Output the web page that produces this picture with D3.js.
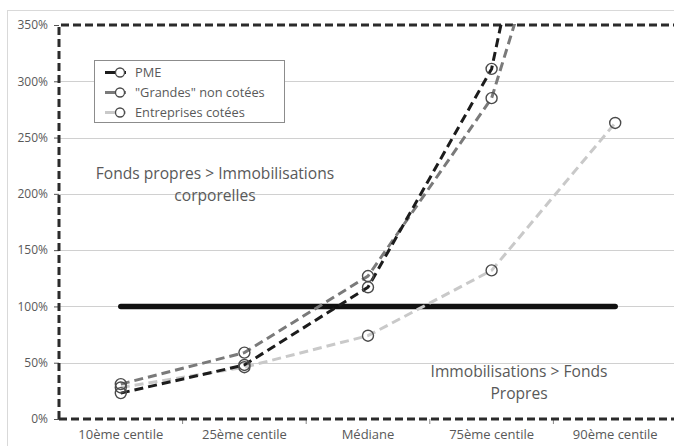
<!DOCTYPE html>
<html>
<head>
<meta charset="utf-8">
<script src="https://cdn.jsdelivr.net/npm/d3@7"></script>
<style>
  html, body { margin: 0; padding: 0; background: #fff; }
  svg { display: block; }
  text { font-family: "Open Sans", "Noto Sans", sans-serif; }
</style>
</head>
<body>
<svg id="chart" width="674" height="446"></svg>
<script>
// Ratio fonds propres / immobilisations corporelles par centile
const categories = ["10ème centile", "25ème centile", "Médiane", "75ème centile", "90ème centile"];
const seriesNames = ["PME", "\"Grandes\"  non cotées", "Entreprises cotées"];
const pmeValues = [23, 48, 117, 311, 830];
const grandesValues = [31, 59, 127, 285, 640];
const coteesValues = [28, 46, 74, 132, 263];
const thresholdValue = 100;
const yTicks = [0, 50, 100, 150, 200, 250, 300, 350];

const seriesValues = [pmeValues, grandesValues, coteesValues];
const seriesColors = ["#1c1c1c", "#7a7a7a", "#c9c9c9"];

const svg = d3.select("#chart");
const margin = { left: 59, top: 25, right: -3, bottom: 27 };
const W = 674, H = 446;

const x = d3.scaleBand()
  .domain(categories)
  .range([margin.left, W - margin.right])
  .paddingInner(0).paddingOuter(0);
const y = d3.scaleLinear().domain([0, 350]).range([H - margin.bottom, margin.top]);
const cx = d => x(d) + x.bandwidth() / 2;

// chart frame
svg.append("rect")
  .attr("x", 7.5).attr("y", 10.5).attr("width", 680).attr("height", 440)
  .attr("fill", "none").attr("stroke", "#d9d9d9").attr("stroke-width", 1);

// horizontal gridlines
svg.append("g")
  .selectAll("line")
  .data(yTicks.filter(t => t > 0 && t < 350))
  .join("line")
  .attr("x1", margin.left).attr("x2", W)
  .attr("y1", d => Math.round(y(d)) + 0.5).attr("y2", d => Math.round(y(d)) + 0.5)
  .attr("stroke", "#d0d0d0").attr("stroke-width", 1);

// y axis
const yAxis = svg.append("g")
  .attr("transform", `translate(${margin.left},0)`)
  .call(d3.axisLeft(y).tickValues(yTicks).tickFormat(d => d + "%").tickSize(5).tickPadding(6));
yAxis.select(".domain").remove();
yAxis.selectAll(".tick line").attr("stroke", "#555").attr("stroke-width", 1);
yAxis.selectAll(".tick text").attr("fill", "#595959").attr("font-size", 12);

// x axis
const boundaries = categories.slice(1).map(c => x(c));
const xAxis = svg.append("g")
  .attr("transform", `translate(0,${y(0)})`)
  .call(d3.axisBottom(x).tickSize(0).tickPadding(11));
xAxis.select(".domain").remove();
xAxis.selectAll(".tick text").attr("fill", "#595959").attr("font-size", 13);
svg.append("g").selectAll("line")
  .data(boundaries)
  .join("line")
  .attr("x1", d => d).attr("x2", d => d)
  .attr("y1", y(0)).attr("y2", y(0) + 5)
  .attr("stroke", "#888").attr("stroke-width", 1);

// dashed plot-area border
svg.append("path")
  .attr("d", `M${margin.left},${y(0)} L${margin.left},${y(350)} L${W + 10},${y(350)} M${margin.left},${y(0)} L${W + 10},${y(0)}`)
  .attr("fill", "none").attr("stroke", "#2b2b2b").attr("stroke-width", 3)
  .attr("stroke-dasharray", "8,4");

// threshold line at 100%
svg.append("line")
  .attr("x1", cx(categories[0])).attr("x2", cx(categories[categories.length - 1]))
  .attr("y1", y(thresholdValue)).attr("y2", y(thresholdValue))
  .attr("stroke", "#111").attr("stroke-width", 5.5).attr("stroke-linecap", "round");

// clip series to the plot area
svg.append("clipPath").attr("id", "plot-clip")
  .append("rect").attr("x", margin.left).attr("y", y(350) - 1)
  .attr("width", W - margin.left + 10).attr("height", y(0) - y(350) + 2);

const line = d3.line().x((d, i) => cx(categories[i])).y(d => y(d));
const plot = svg.append("g").attr("clip-path", "url(#plot-clip)");

// draw lighter series first so the darkest sits on top
[2, 1, 0].forEach(s => {
  plot.append("path")
    .datum(seriesValues[s])
    .attr("d", line)
    .attr("fill", "none").attr("stroke", seriesColors[s])
    .attr("stroke-width", 3).attr("stroke-dasharray", "9,5");
});
[2, 1, 0].forEach(s => {
  plot.append("g").selectAll("circle")
    .data(seriesValues[s])
    .join("circle")
    .attr("cx", (d, i) => cx(categories[i])).attr("cy", d => y(d))
    .attr("r", 5.5)
    .attr("fill", "none").attr("stroke", "#4a4a4a").attr("stroke-width", 1.4);
});

// legend
const legend = svg.append("g");
legend.append("rect")
  .attr("x", 94.5).attr("y", 60.5).attr("width", 190).attr("height", 62)
  .attr("fill", "#fff").attr("stroke", "#8c8c8c").attr("stroke-width", 1);
seriesNames.forEach((name, i) => {
  const ly = 72.5 + i * 20;
  legend.append("line")
    .attr("x1", 105).attr("x2", 126).attr("y1", ly).attr("y2", ly)
    .attr("stroke", seriesColors[i]).attr("stroke-width", 3);
  legend.append("circle")
    .attr("cx", 120).attr("cy", ly).attr("r", 4.5)
    .attr("fill", "#fff").attr("stroke", "#4a4a4a").attr("stroke-width", 1.3);
  legend.append("text")
    .attr("x", 135).attr("y", ly + 4.5)
    .attr("fill", "#595959").attr("font-size", 12.8)
    .text(name);
});

// region annotations
const notes = [
  { x: 215, y: 179, lines: ["Fonds propres > Immobilisations", "corporelles"] },
  { x: 519, y: 377, lines: ["Immobilisations > Fonds", "Propres"] }
];
notes.forEach(n => {
  n.lines.forEach((t, i) => {
    svg.append("text")
      .attr("x", n.x).attr("y", n.y + i * 22)
      .attr("text-anchor", "middle")
      .attr("fill", "#595959").attr("font-size", 15.6)
      .text(t);
  });
});
</script>
</body>
</html>
